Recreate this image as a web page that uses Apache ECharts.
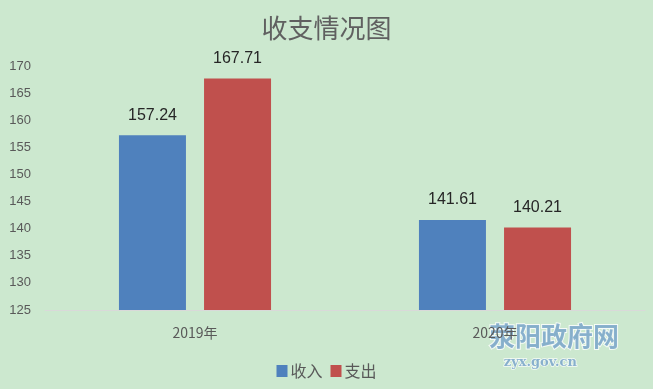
<!DOCTYPE html>
<html>
<head>
<meta charset="utf-8">
<script src="https://cdn.jsdelivr.net/npm/echarts@6/dist/echarts.min.js"></script>
<style>html,body{margin:0;padding:0;background:#cce8cf;}#c{width:653px;height:389px;}</style>
</head>
<body>
<div id="c"></div>
<script>
const categories = ['2019年', '2020年'];
const income = [157.24, 141.61];
const expense = [167.71, 140.21];
const seriesNames = ['收入', '支出'];
const yMin = 125, yMax = 170, yInterval = 5;

const chart = echarts.init(document.getElementById('c'));
const labelStyle = {
  show: true, position: 'top', distance: 12,
  color: '#262626', fontSize: 16, fontFamily: 'Liberation Sans, Arial, sans-serif',
  formatter: p => p.value.toFixed(2)
};
chart.setOption({
  backgroundColor: '#cce8cf',
  title: {
    text: '收支情况图', left: 'center', top: 10,
    textStyle: { color: '#606060', fontSize: 26, fontWeight: 'normal', fontFamily: 'Noto Sans CJK SC' }
  },
  legend: {
    data: seriesNames, bottom: 5, left: 'center', itemWidth: 11, itemHeight: 12, itemGap: 8,
    icon: 'rect',
    textStyle: { color: '#595959', fontSize: 16, fontFamily: 'Noto Sans CJK SC', padding: [0, 0, 0, -2] }
  },
  grid: { left: 45, right: 8, top: 66, bottom: 79, containLabel: false },
  xAxis: {
    type: 'category', data: categories,
    axisLine: { lineStyle: { color: '#d9d9d9', width: 1 } },
    axisTick: { show: false },
    axisLabel: { color: '#595959', fontSize: 14, margin: 16, fontFamily: 'Noto Sans CJK SC' }
  },
  yAxis: {
    type: 'value', min: yMin, max: yMax, interval: yInterval,
    axisLine: { show: false }, axisTick: { show: false },
    splitLine: { show: false },
    axisLabel: { color: '#595959', fontSize: 13, margin: 14, fontFamily: 'Liberation Sans, Arial, sans-serif' }
  },
  series: [
    { name: seriesNames[0], type: 'bar', data: income, barWidth: 67, barGap: '27%',
      itemStyle: { color: '#4f81bd' }, label: labelStyle },
    { name: seriesNames[1], type: 'bar', data: expense, barWidth: 67, barGap: '27%',
      itemStyle: { color: '#c0504d' }, label: labelStyle }
  ],
  graphic: [
    { type: 'text', left: 488, top: 322,
      style: { text: '荥阳政府网', fontSize: 26, fontWeight: 'bold', fontFamily: 'Noto Sans CJK SC',
        fill: 'rgba(120,165,200,0.85)', stroke: 'rgba(255,255,255,0.8)', lineWidth: 2 } },
    { type: 'text', left: 503, top: 355,
      style: { text: 'zyx.gov.cn', fontSize: 13, fontWeight: 'bold', fontFamily: 'DejaVu Serif',
        fill: 'rgba(120,165,200,0.85)', stroke: 'rgba(255,255,255,0.8)', lineWidth: 1.5, letterSpacing: 1 } }
  ]
});
</script>
</body>
</html>
